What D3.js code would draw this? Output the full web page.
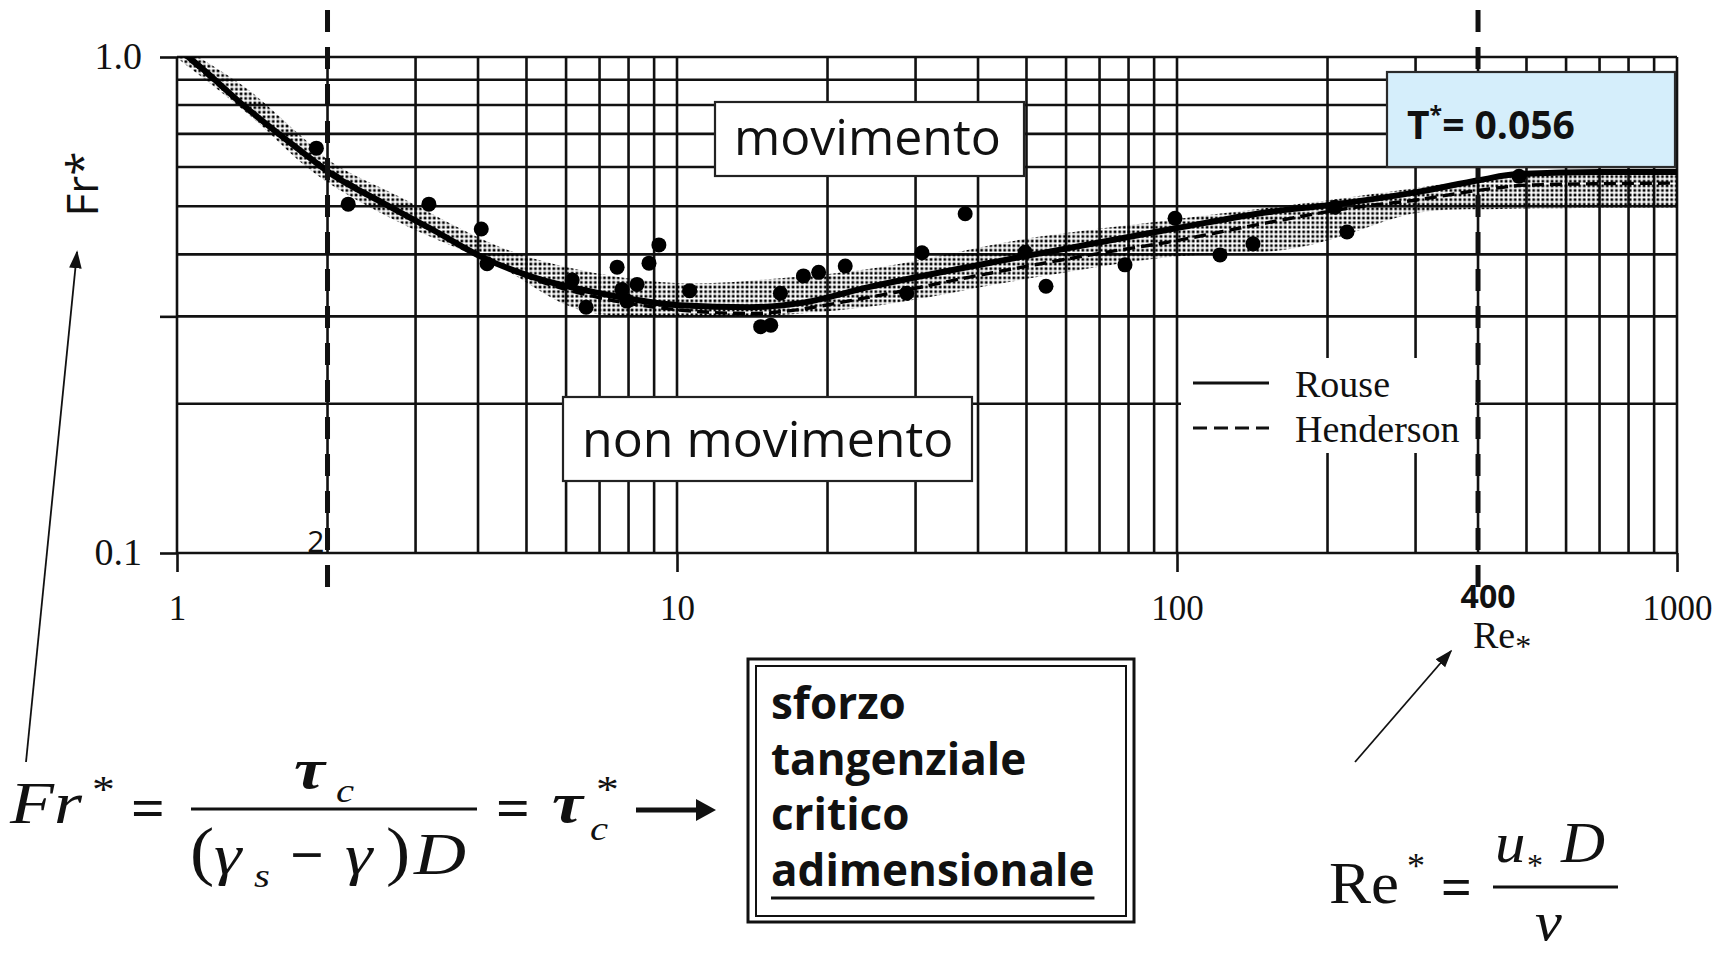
<!DOCTYPE html>
<html>
<head>
<meta charset="utf-8">
<script src="https://cdn.jsdelivr.net/npm/d3@7"></script>
<style>
  html, body { margin: 0; padding: 0; background: #fff; }
  svg { display: block; }
</style>
</head>
<body>
<svg id="chart" width="1728" height="954"></svg>
<script>
// ---- Shields diagram: critical Froude/Shields number vs. particle Reynolds number ----

// axis ticks
const xTickValues = [1, 10, 100, 1000];
const yTickValues = [0.1, 0.3, 1.0];
const yTickLabels = ["0.1", "", "1.0"];

// limits of the transitional regime (Re*)
const reLimits = [2, 400];
const reLimitLabels = ["2", "400"];

// Rouse curve
const rouseRe = [1.00, 1.06, 1.37, 1.76, 2.05, 2.58, 3.25, 4.09, 5.15, 7.01, 10.1, 14.0, 17.6, 24.3, 48.5, 100, 153, 202, 302, 404, 479, 701, 1000];
const rouseFr = [1.04, 0.995, 0.793, 0.649, 0.578, 0.508, 0.448, 0.394, 0.360, 0.334, 0.316, 0.313, 0.319, 0.344, 0.395, 0.452, 0.487, 0.503, 0.534, 0.565, 0.581, 0.586, 0.586];

// Henderson curve
const hendRe = [1.00, 1.76, 3.25, 5.15, 7.01, 10.1, 14.0, 24.3, 38.5, 71.1, 96.8, 151, 222, 302, 404, 508, 1000];
const hendFr = [1.04, 0.649, 0.448, 0.357, 0.327, 0.309, 0.304, 0.328, 0.360, 0.403, 0.424, 0.463, 0.496, 0.515, 0.539, 0.552, 0.557];

// scatter band of experimental data
const bandUpperRe = [1.00, 1.374, 1.762, 2.051, 2.793, 4.426, 6.397, 10.14, 16.07, 25.47, 48.53, 96.83, 202.3, 351.6, 478.6, 1000];
const bandUpperFr = [1.062, 0.866, 0.696, 0.611, 0.522, 0.414, 0.372, 0.350, 0.358, 0.377, 0.428, 0.469, 0.515, 0.557, 0.583, 0.586];
const bandLowerRe = [1.00, 1.374, 1.905, 2.793, 4.426, 6.397, 11.12, 16.07, 25.47, 48.53, 96.83, 162.9, 202.3, 302, 442.6, 1000];
const bandLowerFr = [0.995, 0.774, 0.578, 0.463, 0.377, 0.309, 0.299, 0.302, 0.316, 0.355, 0.395, 0.408, 0.428, 0.485, 0.494, 0.496];

// measured incipient-motion points
const pointRe = [1.90, 2.20, 3.19, 4.06, 4.17, 6.17, 6.58, 7.59, 7.76, 7.94, 8.32, 8.79, 9.20, 10.6, 14.7, 15.4, 16.1, 17.9, 19.2, 21.7, 28.8, 30.9, 37.7, 49.7, 54.7, 78.7, 99.1, 121.9, 141.9, 207, 218.8, 483];
const pointFr = [0.655, 0.505, 0.505, 0.450, 0.383, 0.355, 0.313, 0.377, 0.340, 0.322, 0.348, 0.384, 0.418, 0.338, 0.286, 0.288, 0.334, 0.362, 0.368, 0.379, 0.334, 0.403, 0.483, 0.404, 0.345, 0.381, 0.473, 0.399, 0.420, 0.498, 0.444, 0.575];

const legendLabels = ["Rouse", "Henderson"];
const criticalValueText = "0.056";

// ---------------------------------------------------------------
const svg = d3.select("#chart");
const serif = "'Liberation Serif', 'Times New Roman', serif";
const sans = "'Open Sans', 'Noto Sans', sans-serif";

const x = d3.scaleLog().domain([1, 1000]).range([177, 1677]);
const y = d3.scaleLog().domain([0.1, 1]).range([553, 57]);

const defs = svg.append("defs");
const pat = defs.append("pattern")
  .attr("id", "stipple").attr("patternUnits", "userSpaceOnUse")
  .attr("width", 4.6).attr("height", 4.6);
pat.append("rect").attr("x", 0.5).attr("y", 0.5).attr("width", 2.7).attr("height", 2.7).attr("fill", "#000");
defs.append("clipPath").attr("id", "plotClip")
  .append("rect").attr("x", x(1)).attr("y", y(1)).attr("width", x(1000) - x(1)).attr("height", y(0.1) - y(1));

// grid
const xGrid = [1, 10, 100].flatMap(d => d3.range(1, 10).map(k => k * d)).concat([1000]);
const yGrid = d3.range(1, 11).map(k => k / 10);
const grid = svg.append("g").attr("stroke", "#111").attr("stroke-width", 2.6);
grid.selectAll("line.v").data(xGrid).join("line").attr("class", "v")
  .attr("x1", d => x(d)).attr("x2", d => x(d)).attr("y1", y(1)).attr("y2", y(0.1));
grid.selectAll("line.h").data(yGrid).join("line").attr("class", "h")
  .attr("x1", x(1)).attr("x2", x(1000)).attr("y1", d => y(d)).attr("y2", d => y(d));

// axes
const xAxis = svg.append("g").attr("transform", `translate(0,${y(0.1)})`)
  .call(d3.axisBottom(x).tickValues(xTickValues).tickFormat(d3.format("d")).tickSize(19).tickSizeOuter(0));
xAxis.select(".domain").remove();
xAxis.selectAll(".tick line").attr("stroke", "#111").attr("stroke-width", 2.6);
xAxis.selectAll(".tick text").attr("y", 67).attr("dy", 0)
  .attr("font-family", serif).attr("font-size", 35).attr("fill", "#111");

const yAxis = svg.append("g").attr("transform", `translate(${x(1)},0)`)
  .call(d3.axisLeft(y).tickValues(yTickValues).tickFormat((d, i) => yTickLabels[i]).tickSize(17).tickSizeOuter(0));
yAxis.select(".domain").remove();
yAxis.selectAll(".tick line").attr("stroke", "#111").attr("stroke-width", 2.6);
yAxis.selectAll(".tick text").attr("x", -35).attr("dy", "0.3em")
  .attr("font-family", serif).attr("font-size", 38).attr("fill", "#111");

// legend background
const leg = svg.append("g");
leg.append("rect").attr("x", 1181).attr("y", 358).attr("width", 294).attr("height", 95).attr("fill", "#fff");

// band, curves and points
const plot = svg.append("g").attr("clip-path", "url(#plotClip)");
const upper = bandUpperRe.map((r, i) => [x(r), y(bandUpperFr[i])]);
const lower = bandLowerRe.map((r, i) => [x(r), y(bandLowerFr[i])]).reverse();
const bandLine = d3.line().curve(d3.curveCatmullRom.alpha(0.5));
plot.append("path")
  .attr("d", bandLine(upper) + "L" + bandLine(lower).slice(1) + "Z")
  .attr("fill", "url(#stipple)");

const curve = d3.line().x(d => x(d[0])).y(d => y(d[1])).curve(d3.curveMonotoneX);
plot.append("path").datum(hendRe.map((r, i) => [r, hendFr[i]]))
  .attr("d", curve).attr("fill", "none").attr("stroke", "#000")
  .attr("stroke-width", 3.4).attr("stroke-dasharray", "12,6");
plot.append("path").datum(rouseRe.map((r, i) => [r, rouseFr[i]]))
  .attr("d", curve).attr("fill", "none").attr("stroke", "#000").attr("stroke-width", 6);

plot.selectAll("circle").data(pointRe.map((r, i) => [r, pointFr[i]])).join("circle")
  .attr("cx", d => x(d[0])).attr("cy", d => y(d[1])).attr("r", 7.5).attr("fill", "#000");

// legend entries
leg.append("line").attr("x1", 1193).attr("x2", 1269).attr("y1", 383).attr("y2", 383)
  .attr("stroke", "#111").attr("stroke-width", 3.2);
leg.append("line").attr("x1", 1193).attr("x2", 1269).attr("y1", 428).attr("y2", 428)
  .attr("stroke", "#111").attr("stroke-width", 2.8).attr("stroke-dasharray", "14,7");
leg.selectAll("text").data(legendLabels).join("text")
  .attr("x", 1295).attr("y", (d, i) => 397 + i * 45)
  .attr("font-family", serif).attr("font-size", 38).attr("fill", "#111").text(d => d);

// transitional-regime limits
svg.selectAll("line.lim").data(reLimits).join("line").attr("class", "lim")
  .attr("x1", d => x(d)).attr("x2", d => x(d)).attr("y1", 10).attr("y2", (d, i) => i ? 600 : 591)
  .attr("stroke", "#111").attr("stroke-width", 5).attr("stroke-dasharray", "22,15");
svg.append("text").attr("x", x(reLimits[0]) - 3).attr("y", 552).attr("text-anchor", "end")
  .attr("font-family", sans).attr("font-size", 30).attr("fill", "#111").text(reLimitLabels[0]);
svg.append("text").attr("x", x(reLimits[1]) + 10).attr("y", 608).attr("text-anchor", "middle")
  .attr("font-family", sans).attr("font-weight", 700).attr("font-size", 32).attr("fill", "#111").text(reLimitLabels[1]);

// axis titles
const reT = svg.append("text").attr("x", 1473).attr("y", 648)
  .attr("font-family", serif).attr("font-size", 38).attr("fill", "#111");
reT.append("tspan").text("Re");
reT.append("tspan").attr("font-size", 32).attr("dy", 9).text("*");
svg.append("text").attr("transform", "translate(98,184) rotate(-90)").attr("text-anchor", "middle")
  .attr("font-family", sans).attr("font-size", 44).attr("fill", "#111").text("Fr*");

// region labels
function labelBox(x0, y0, w, h, txt, tx, ty) {
  svg.append("rect").attr("x", x0).attr("y", y0).attr("width", w).attr("height", h)
    .attr("fill", "#fff").attr("stroke", "#222").attr("stroke-width", 2.2);
  svg.append("text").attr("x", tx).attr("y", ty).attr("font-family", sans)
    .attr("font-size", 50).attr("fill", "#111").text(txt);
}
labelBox(715, 102, 309, 74, "movimento", 734, 155);
labelBox(563, 397, 409, 84, "non movimento", 582, 457);

// critical Shields value
svg.append("rect").attr("x", 1387).attr("y", 72).attr("width", 288).attr("height", 95)
  .attr("fill", "#d5eefb").attr("stroke", "#2a2a2a").attr("stroke-width", 2.2);
const tau = svg.append("text").attr("x", 1407).attr("y", 139)
  .attr("font-family", sans).attr("font-weight", 700).attr("font-size", 39).attr("fill", "#111");
tau.append("tspan").text("T");
tau.append("tspan").attr("font-size", 23).attr("dy", -16).text("*");
tau.append("tspan").attr("dy", 16).text("= " + criticalValueText);

// pointers to the axis titles
defs.append("marker").attr("id", "head2").attr("viewBox", "0 0 10 10").attr("refX", 9).attr("refY", 5)
  .attr("markerWidth", 18).attr("markerHeight", 18).attr("markerUnits", "userSpaceOnUse")
  .attr("orient", "auto").append("path").attr("d", "M0,1.5L10,5L0,8.5Z").attr("fill", "#111");
svg.append("line").attr("x1", 26).attr("y1", 762).attr("x2", 77).attr("y2", 252)
  .attr("stroke", "#111").attr("stroke-width", 1.8).attr("marker-end", "url(#head2)");
svg.append("line").attr("x1", 1355).attr("y1", 762).attr("x2", 1451).attr("y2", 651)
  .attr("stroke", "#111").attr("stroke-width", 1.8).attr("marker-end", "url(#head2)");

// Fr* = tau_c / ((gamma_s - gamma) D) = tau_c*  ->
const f = svg.append("g").attr("font-family", serif).attr("fill", "#111");
function t(xp, yp, s, size, opts = {}) {
  const sx = opts.sx || 1;
  const el = f.append("text").attr("x", 0).attr("y", 0)
    .attr("transform", `translate(${xp},${yp}) scale(${sx},1)`)
    .attr("font-size", size).text(s);
  if (opts.italic) el.attr("font-style", "italic");
  if (opts.bold) el.attr("font-weight", 700);
  return el;
}
const S = 1.2;
t(10, 823, "Fr", 60, { italic: true, sx: S });
t(92, 802, "*", 38, { sx: S });
t(131, 826, "=", 54, { bold: true, sx: 1.1 });
f.append("line").attr("x1", 191).attr("x2", 477).attr("y1", 809).attr("y2", 809)
  .attr("stroke", "#111").attr("stroke-width", 3);
t(294, 788, "τ", 58, { italic: true, bold: true, sx: S });
t(336, 802, "c", 34, { italic: true, sx: S });
t(190, 873, "(", 66, { sx: 1.1 });
t(214, 874, "γ", 58, { italic: true, sx: S });
t(254, 887, "s", 34, { italic: true, sx: S });
t(290, 873, "−", 54, { bold: true, sx: 1.1 });
t(345, 874, "γ", 58, { italic: true, sx: S });
t(386, 873, ")", 66, { sx: 1.1 });
t(414, 874, "D", 60, { italic: true, sx: S });
t(496, 826, "=", 54, { bold: true, sx: 1.1 });
t(552, 822, "τ", 58, { italic: true, bold: true, sx: S });
t(590, 840, "c", 34, { italic: true, sx: S });
t(596, 802, "*", 38, { sx: S });
f.append("line").attr("x1", 636).attr("x2", 700).attr("y1", 810).attr("y2", 810)
  .attr("stroke", "#111").attr("stroke-width", 5);
f.append("path").attr("d", "M696,799L716,810L696,821Z").attr("fill", "#111");

// Re* = u* D / nu
t(1329, 903, "Re", 60, { sx: 1.05 });
t(1407, 878, "*", 36);
t(1441, 905, "=", 54, { bold: true });
f.append("line").attr("x1", 1493).attr("x2", 1618).attr("y1", 887).attr("y2", 887)
  .attr("stroke", "#111").attr("stroke-width", 2.8);
t(1495, 862, "u", 58, { italic: true, sx: 1.05 });
t(1527, 876, "*", 32);
t(1561, 862, "D", 58, { italic: true, sx: 1.05 });
t(1535, 940, "ν", 54, { italic: true, sx: 1.12 });

// definition box
svg.append("rect").attr("x", 748).attr("y", 659).attr("width", 386).attr("height", 263)
  .attr("fill", "#fff").attr("stroke", "#111").attr("stroke-width", 3);
svg.append("rect").attr("x", 756).attr("y", 666).attr("width", 370).attr("height", 250)
  .attr("fill", "none").attr("stroke", "#111").attr("stroke-width", 2);
const defLines = ["sforzo", "tangenziale", "critico", "adimensionale"];
const defT = svg.selectAll("text.def").data(defLines).join("text").attr("class", "def")
  .attr("x", 771).attr("y", (d, i) => 719 + i * 55.7)
  .attr("font-family", sans).attr("font-weight", 700).attr("font-size", 44).attr("fill", "#111")
  .text(d => d);
const lastLen = defT.nodes()[3].getComputedTextLength();
svg.append("line").attr("x1", 771).attr("x2", 771 + lastLen).attr("y1", 898).attr("y2", 898)
  .attr("stroke", "#111").attr("stroke-width", 2.8);
</script>
</body>
</html>
